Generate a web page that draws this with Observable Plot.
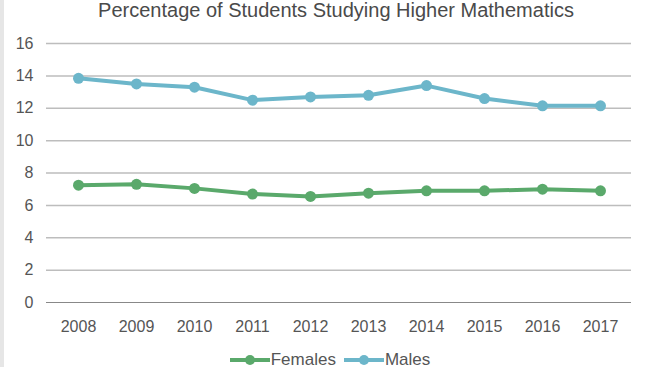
<!DOCTYPE html>
<html>
<head>
<meta charset="utf-8">
<script src="https://cdn.jsdelivr.net/npm/d3@7"></script>
<script src="https://cdn.jsdelivr.net/npm/@observablehq/plot@0.6"></script>
<style>
  html, body { margin: 0; padding: 0; background: #fff; }
  #wrap { width: 646px; height: 368px; border-left: 4px solid #e6e6e6; position: relative; font-family: "Liberation Sans", Arial, sans-serif; color: #555; }
  #title { text-align: center; font-size: 20px; line-height: 22px; height: 24px; padding-left: 18px; color: #4a4a4a; margin-top: -1px; margin-bottom: 1px; }
  #legend { display: flex; justify-content: center; align-items: center; font-size: 17px; color: #555; height: 24px; margin-top: 6px; padding-left: 6px; }
  .item { display: flex; align-items: center; margin: 0 4px; }
  .item svg { display: block; margin-right: 1px; }
  #chart svg text { font-family: "Liberation Sans", Arial, sans-serif; font-size: 16px; fill: #555; }
</style>
</head>
<body>
<div id="wrap">
  <div id="title">Percentage of Students Studying Higher Mathematics</div>
  <div id="chart"></div>
  <div id="legend"></div>
</div>
<script>
const years = ["2008","2009","2010","2011","2012","2013","2014","2015","2016","2017"];
const females = [7.25, 7.3, 7.05, 6.7, 6.55, 6.75, 6.9, 6.9, 7.0, 6.9];
const males = [13.85, 13.5, 13.3, 12.5, 12.7, 12.8, 13.4, 12.6, 12.15, 12.15];
const seriesNames = ["Females", "Males"];
const seriesColors = ["#5aa96b", "#6cb6ca"];
const yTicks = [0, 2, 4, 6, 8, 10, 12, 14, 16];

const seriesValues = [females, males];
const data = [];
seriesNames.forEach((s, i) => {
  years.forEach((yr, j) => data.push({series: s, year: yr, value: seriesValues[i][j]}));
});

const chart = Plot.plot({
  width: 646,
  height: 318,
  marginTop: 19,
  marginBottom: 40,
  marginLeft: 42,
  marginRight: 19,
  style: {fontFamily: "Liberation Sans, Arial, sans-serif", fontSize: "16px", color: "#555", background: "#fff"},
  x: {type: "point", domain: years, padding: 0.5, label: null},
  y: {domain: [0, 16], label: null},
  color: {domain: seriesNames, range: seriesColors},
  marks: [
    Plot.ruleY(yTicks.filter(d => d > 0), {stroke: "#bdbdbd", strokeWidth: 1.5}),
    Plot.ruleY([0], {stroke: "#888", strokeWidth: 1}),
    Plot.axisY({ticks: yTicks, tickSize: 0, tickPadding: 13, fontSize: 16, label: null}),
    Plot.axisX({tickSize: 0, tickPadding: 18, fontSize: 16, label: null}),
    Plot.line(data, {x: "year", y: "value", stroke: "series", strokeWidth: 4}),
    Plot.dot(data, {x: "year", y: "value", fill: "series", r: 5.5})
  ]
});
document.getElementById("chart").appendChild(chart);

const legend = document.getElementById("legend");
seriesNames.forEach((s, i) => {
  const item = document.createElement("div");
  item.className = "item";
  item.innerHTML = `<svg width="40" height="14"><line x1="0" x2="40" y1="7" y2="7" stroke="${seriesColors[i]}" stroke-width="4"/><circle cx="20" cy="7" r="5" fill="${seriesColors[i]}"/></svg><span>${s}</span>`;
  legend.appendChild(item);
});
</script>
</body>
</html>
